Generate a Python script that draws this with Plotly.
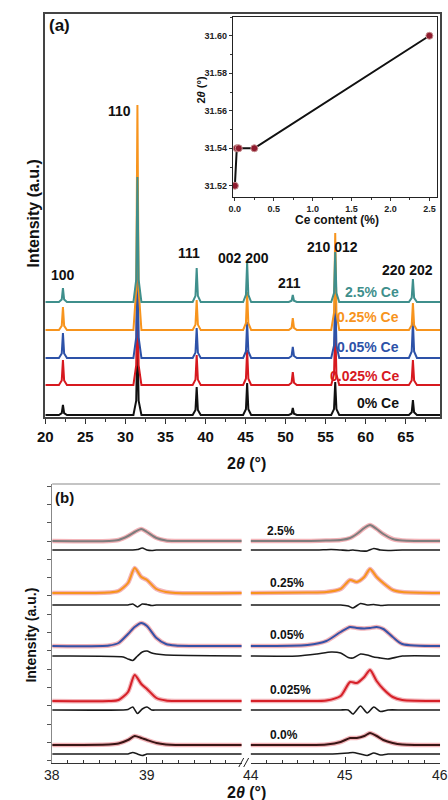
import plotly.graph_objects as go

W, H = 448, 800
FONT = "Liberation Sans"

# ---------------- Panel (a) data ----------------
peak_pos = [22.2, 31.5, 38.9, 45.2, 50.9, 56.2, 65.9]
series_names = ["0% Ce", "0.025% Ce", "0.05% Ce", "0.25% Ce", "2.5% Ce"]
series_colors = ["#111111", "#d7191f", "#2d52a8", "#f7941d", "#3f8f8c"]
series_offsets = [2, 32, 59, 87, 115]
h_0 = [10, 80, 28, 32, 7, 33, 15]
h_0025 = [25, 110, 30, 35, 13, 60, 25]
h_005 = [25, 115, 30, 36, 11, 70, 36]
h_025 = [23, 225, 30, 38, 12, 97, 27]
h_25 = [14, 125, 34, 40, 7, 50, 23]
heights_a = [h_0, h_0025, h_005, h_025, h_25]
x_start, x_end = 20.0, 69.5

hkl_labels = ["100", "110", "111", "002 200", "211", "210 012", "220 202"]
hkl_x = [22.2, 29.3, 38.0, 44.8, 50.5, 55.9, 65.2]
hkl_y = [142, 306, 164, 159, 134, 170, 147]
series_label_y = [14, 41, 70, 100, 125]

# Inset data
ce_content = [0.0, 0.025, 0.05, 0.25, 2.5]
two_theta = [31.52, 31.54, 31.54, 31.54, 31.60]

# ---------------- Panel (b) data ----------------
b_names = ["2.5%", "0.25%", "0.05%", "0.025%", "0.0%"]
b_colors = ["#7d7d7d", "#f7941d", "#3552a6", "#d62028", "#3a1515"]
b_fit_base = [222, 170, 117, 62, 18]
b_diff_base = [213, 158, 107, 53, 9]

left_x = [38.0, 38.6, 38.7, 38.8, 38.87, 38.94, 39.0, 39.1, 39.2, 39.3, 40.0]
left_h = [
    [0, 0, 1, 5, 9, 12, 9, 3, 0.5, 0, 0],
    [0, 0.5, 2, 10, 25, 16, 13, 4, 1, 0, 0],
    [0, 0.5, 3, 12, 19, 23, 20, 8, 2, 0.5, 0],
    [0, 0, 1, 9, 26, 17, 12, 3, 0.5, 0, 0],
    [0, 0.5, 1.5, 5, 9, 7, 5, 2, 0.5, 0, 0],
]
right_x = [44.0, 44.6, 44.8, 44.95, 45.05, 45.12, 45.2, 45.26, 45.33, 45.4, 45.5, 45.6, 46.0]
right_h = [
    [0, 0, 0.5, 1, 3, 7, 13, 16, 12, 7, 2, 0.5, 0],
    [0, 0.5, 1, 4, 13, 11, 16, 24, 16, 10, 3, 1, 0],
    [0, 1, 5, 14, 19, 18, 17.5, 18, 19, 17, 9, 2, 0],
    [0, 0, 0.5, 5, 19, 18, 24, 31, 20, 12, 4, 1, 0],
    [0, 0, 0.5, 3, 7, 7, 9, 12, 9, 5, 2, 0.5, 0],
]
left_dx = [38.0, 38.75, 38.8, 38.85, 38.9, 38.95, 39.0, 39.05, 39.1, 39.2, 40.0]
left_d = [
    [0, 0, 0, 0, 0.5, 2, 0, -0.5, 0, 0, 0],
    [0, 0, 0, 1, -2, 1, 0.5, -0.5, 0, 0, 0],
    [0, -1, -3, -4.5, 0, 4, 5, 3, 2, 1, 0],
    [0, 0, 0.5, 3, -3.5, 1, 3, 0, 0, 0, 0],
    [0, 0, 0, 1.5, 0, -1.5, 0, 0, 0, 0, 0],
]
right_dx = [44.0, 44.5, 44.7, 44.85, 44.95, 45.03, 45.08, 45.16, 45.23, 45.3, 45.37, 45.45, 45.6, 46.0]
right_d = [
    [0, 0, 0, 0.5, 0, -0.5, 0, -1, -1, 1.5, 0, -0.5, 0, 0],
    [0, 0, 0, 0, 0, -1, -3, 1.5, 0, 0.5, -0.5, 0, 0, 0],
    [0, 0, 2, 4, 3, -1.5, -2, 2, 1, -1, -2, -3, 0, 0],
    [0, 0, 0, 0, 0, 0, -4, 4, -3, 3, -1.5, 0, 0, 0],
    [0, 0, 0, 0, 0.5, 1, 1.5, 0, -1.5, 1, -1, 0, 0, 0],
]
b_label_x = [44.32, 44.38, 44.38, 44.42, 44.35]
b_label_y = [232, 180, 128, 73, 28]
b_left_ticks = [38, 39]
b_right_ticks = [44, 45, 46]


def px_x(p):
    return p / W


def px_y(p):
    return 1 - p / H


fig = go.Figure()

# Panel (a) patterns
for name, col, off, hs in zip(series_names, series_colors, series_offsets, heights_a):
    xs, ys = [x_start], [off]
    for p, h in zip(peak_pos, hs):
        xs += [p - 0.5, p - 0.15, p, p + 0.15, p + 0.5]
        ys += [off, off + 0.18 * h, off + h, off + 0.18 * h, off]
    xs.append(x_end)
    ys.append(off)
    fig.add_trace(go.Scatter(x=xs, y=ys, mode="lines", line=dict(color=col, width=2),
                             xaxis="x", yaxis="y", showlegend=False, hoverinfo="skip"))

# Inset
fig.add_trace(go.Scatter(x=ce_content, y=two_theta, mode="lines+markers",
                         line=dict(color="#111111", width=2),
                         marker=dict(size=7, color="#8e1b2e", line=dict(color="#c79090", width=1)),
                         xaxis="x2", yaxis="y2", showlegend=False))

# Panel (b)
for i in range(5):
    for xa, xv, hv, dxv, dv in (("x3", left_x, left_h[i], left_dx, left_d[i]),
                                 ("x4", right_x, right_h[i], right_dx, right_d[i])):
        ya = "y3" if xa == "x3" else "y4"
        fy = [b_fit_base[i] + v for v in hv]
        fig.add_trace(go.Scatter(x=xv, y=fy, mode="lines",
                                 line=dict(color="#f3b3b8", width=4.5, shape="spline", smoothing=0.7),
                                 xaxis=xa, yaxis=ya, showlegend=False, hoverinfo="skip"))
        fig.add_trace(go.Scatter(x=xv, y=fy, mode="lines",
                                 line=dict(color=b_colors[i], width=2, shape="spline", smoothing=0.7),
                                 xaxis=xa, yaxis=ya, showlegend=False, hoverinfo="skip"))
        dy = [b_diff_base[i] + v for v in dv]
        fig.add_trace(go.Scatter(x=dxv, y=dy, mode="lines",
                                 line=dict(color="#1a1a1a", width=1.6, shape="spline", smoothing=0.6),
                                 xaxis=xa, yaxis=ya, showlegend=False, hoverinfo="skip"))

ann = []
for t, x, y in zip(hkl_labels, hkl_x, hkl_y):
    ann.append(dict(text="<b>%s</b>" % t, x=x, y=y, xref="x", yref="y", showarrow=False,
                    font=dict(family=FONT, size=14, color="#111111")))
for name, col, ly in zip(series_names, series_colors, series_label_y):
    ann.append(dict(text="<b>%s</b>" % name, x=400 / W, y=ly, xref="paper", yref="y", xanchor="right",
                    yanchor="middle", showarrow=False, font=dict(family=FONT, size=14, color=col)))


def pann(text, x, y, size, angle=0, xanchor="center"):
    return dict(text=text, x=px_x(x), y=px_y(y), xref="paper", yref="paper", xanchor=xanchor,
                yanchor="middle", textangle=angle, showarrow=False,
                font=dict(family=FONT, size=size, color="#111111"))


ann += [
    pann("<b>(a)</b>", 40, 26, 17, xanchor="left"),
    pann("<b>Intensity (a.u.)</b>", 25, 214, 16, angle=-90),
    pann("<b>2<i>θ</i> (°)</b>", 243, 463, 16),
    pann("<b>Ce content (%)</b>", 335, 220, 12),
    pann("<b>2<i>θ</i> (°)</b>", 196, 90, 11, angle=-90),
    pann("<b>(b)</b>", 46, 497, 15, xanchor="left"),
    pann("<b>Intensity (a.u.)</b>", 23, 635, 14, angle=-90),
    pann("<b>2<i>θ</i> (°)</b>", 243, 792, 16),
]
for t, x, y in zip(b_names, b_label_x, b_label_y):
    ann.append(dict(text="<b>%s</b>" % t, x=x, y=y, xref="x4", yref="y4", showarrow=False,
                    font=dict(family=FONT, size=12, color="#111111")))
for xa, vals in (("x3", b_left_ticks), ("x4", b_right_ticks)):
    for v in vals:
        ann.append(dict(text=str(v), x=v, y=px_y(775), xref=xa, yref="paper", xanchor="center",
                        yanchor="middle", showarrow=False,
                        font=dict(family=FONT, size=14, color="#222222")))

shapes = [
    dict(type="line", xref="paper", yref="paper", x0=px_x(45), x1=px_x(440), y0=px_y(484), y1=px_y(484),
         line=dict(color="#b0b0b0", width=1.5)),
    dict(type="line", xref="paper", yref="paper", x0=px_x(235), x1=px_x(240), y0=px_y(767), y1=px_y(758),
         line=dict(color="#222", width=1)),
    dict(type="line", xref="paper", yref="paper", x0=px_x(240), x1=px_x(245), y0=px_y(767), y1=px_y(758),
         line=dict(color="#222", width=1)),
]

tickf = dict(family=FONT, size=15, color="#111111", weight="bold")
small = dict(family=FONT, size=9, color="#222222", weight="bold")

fig.update_layout(
    width=W, height=H, margin=dict(l=0, r=0, t=0, b=0),
    paper_bgcolor="white", plot_bgcolor="rgba(0,0,0,0)",
    annotations=ann, shapes=shapes,
    xaxis=dict(domain=[px_x(38), px_x(440)], range=[20, 69.3], dtick=5, tick0=20,
               ticks="outside", ticklen=5, tickwidth=1.2, tickcolor="#333",
               minor=dict(dtick=2.5, ticks="outside", ticklen=3, tickcolor="#333"),
               showline=True, linecolor="#444", linewidth=1.5, mirror=True,
               showgrid=False, zeroline=False, tickfont=tickf, anchor="y"),
    yaxis=dict(domain=[px_y(417), px_y(14)], range=[0, 403], showticklabels=False, ticks="",
               showline=True, linecolor="#444", linewidth=1.5, mirror=True,
               showgrid=False, zeroline=False, anchor="x"),
    xaxis2=dict(domain=[px_x(229), px_x(437)], range=[-0.025, 2.6], dtick=0.5, tick0=0,
                tickformat=".1f", ticks="outside", ticklen=3, tickcolor="#333",
                minor=dict(dtick=0.25, ticks="outside", ticklen=2, tickcolor="#333"),
                showline=True, linecolor="#222", linewidth=1, mirror=True,
                showgrid=False, zeroline=False, tickfont=small, anchor="y2"),
    yaxis2=dict(domain=[px_y(197), px_y(17)], range=[31.514, 31.610], dtick=0.02, tick0=31.52,
                tickformat=".2f", ticks="outside", ticklen=3, tickcolor="#333",
                minor=dict(dtick=0.01, ticks="outside", ticklen=2, tickcolor="#333"),
                showline=True, linecolor="#222", linewidth=1, mirror=True,
                showgrid=False, zeroline=False, tickfont=small, anchor="x2"),
    xaxis3=dict(domain=[px_x(45), px_x(238)], range=[38, 40], tickvals=[38, 39, 40],
                showticklabels=False, ticks="inside", ticklen=6, tickcolor="#333",
                minor=dict(dtick=1 / 6, tick0=38, ticks="inside", ticklen=3, tickcolor="#333"),
                showline=True, linecolor="#333", linewidth=1.2, showgrid=False, zeroline=False,
                anchor="y3"),
    yaxis3=dict(domain=[px_y(763), px_y(484)], range=[0, 279], showticklabels=False,
                tick0=2.4, dtick=18.3, ticks="outside", ticklen=4, tickcolor="#555",
                showline=True, linecolor="#888", linewidth=1, showgrid=False, zeroline=False,
                anchor="x3"),
    xaxis4=dict(domain=[px_x(247), px_x(440)], range=[44, 46], tickvals=[44, 45, 46],
                showticklabels=False, ticks="inside", ticklen=6, tickcolor="#333",
                minor=dict(dtick=1 / 6, tick0=44, ticks="inside", ticklen=3, tickcolor="#333"),
                showline=True, linecolor="#333", linewidth=1.2, showgrid=False, zeroline=False,
                anchor="y4"),
    yaxis4=dict(domain=[px_y(763), px_y(484)], range=[0, 279], showticklabels=False, ticks="",
                showline=False, showgrid=False, zeroline=False, anchor="x4"),
)

fig.write_html("out.html", config={"displayModeBar": False},
               post_script="document.body.style.margin='0px';")
